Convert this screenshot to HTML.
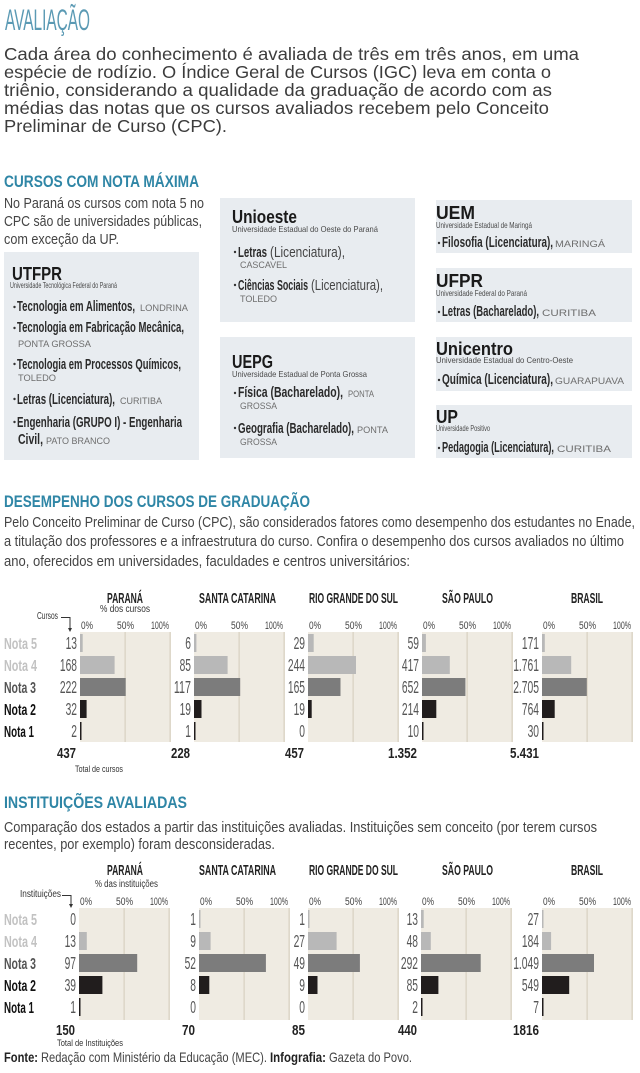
<!DOCTYPE html>
<html><head><meta charset="utf-8"><style>
html,body{margin:0;padding:0;background:#fff;}
svg{display:block;}
.c{font-family:"Liberation Sans Narrow","Liberation Sans",sans-serif;}
.r{font-family:"Liberation Sans",sans-serif;}
.b{font-weight:bold;}
.t{fill:#2f86a6;}
.h{fill:#1a1a1a;font-weight:bold;}
.s{fill:#4a4a4a;font-size:8.5px;}
.it{fill:#2a2a2a;font-weight:bold;font-size:14.5px;}
.rg{fill:#444;font-size:14.5px;}
.p{fill:#6e6e6e;font-size:9.5px;}
.n{fill:#555;font-size:17.5px;}
.nl{font-weight:bold;font-size:16px;}
.tk{fill:#444;font-size:11px;}
.tt{fill:#222;font-weight:bold;font-size:15px;}
.tot{fill:#222;font-weight:bold;font-size:15px;}
</style></head><body>
<svg width="640" height="1073" viewBox="0 0 640 1073" xmlns="http://www.w3.org/2000/svg">
<rect width="640" height="1073" fill="#fff"/>

<!-- Header -->
<text class="c" x="5" y="30" font-size="30" fill="#5b9ab4" textLength="85" lengthAdjust="spacingAndGlyphs">AVALIAÇÃO</text>
<g class="r" font-size="17.5" fill="#3c3c3c">
<text x="4" y="60" textLength="575" lengthAdjust="spacingAndGlyphs">Cada área do conhecimento é avaliada de três em três anos, em uma</text>
<text x="4" y="78" textLength="547" lengthAdjust="spacingAndGlyphs">espécie de rodízio. O Índice Geral de Cursos (IGC) leva em conta o</text>
<text x="4" y="96" textLength="548" lengthAdjust="spacingAndGlyphs">triênio, considerando a qualidade da graduação de acordo com as</text>
<text x="4" y="114" textLength="545" lengthAdjust="spacingAndGlyphs">médias das notas que os cursos avaliados recebem pelo Conceito</text>
<text x="4" y="132" textLength="223" lengthAdjust="spacingAndGlyphs">Preliminar de Curso (CPC).</text>
</g>

<!-- Cursos com nota maxima -->
<text class="c b t" x="4" y="187" font-size="16.5" textLength="195" lengthAdjust="spacingAndGlyphs">CURSOS COM NOTA MÁXIMA</text>
<g class="c" font-size="15" fill="#444">
<text x="4" y="208" textLength="200" lengthAdjust="spacingAndGlyphs">No Paraná  os cursos com nota 5 no</text>
<text x="4" y="226" textLength="198" lengthAdjust="spacingAndGlyphs">CPC são de universidades públicas,</text>
<text x="4" y="244" textLength="115" lengthAdjust="spacingAndGlyphs">com exceção da UP.</text>
</g>

<g fill="#e8ecf0">
<rect x="4" y="252" width="195" height="208"/>
<rect x="220" y="198" width="195" height="124"/>
<rect x="220" y="337" width="195" height="121"/>
<rect x="436" y="200" width="196" height="53"/>
<rect x="436" y="268" width="196" height="54"/>
<rect x="436" y="337" width="196" height="54"/>
<rect x="436" y="405" width="196" height="53"/>
</g>

<!-- UTFPR -->
<text class="c h" x="12" y="280" font-size="18" textLength="50" lengthAdjust="spacingAndGlyphs">UTFPR</text>
<text class="c s" x="10" y="288" textLength="107" lengthAdjust="spacingAndGlyphs">Universidade Tecnológica Federal do Paraná</text>
<g fill="#333">
<circle cx="14.5" cy="307" r="1.2"/><circle cx="14.5" cy="328" r="1.2"/><circle cx="14.5" cy="364" r="1.2"/><circle cx="14.5" cy="399" r="1.2"/><circle cx="14.5" cy="422" r="1.2"/>
</g>
<text class="c it" x="17" y="311" textLength="118" lengthAdjust="spacingAndGlyphs">Tecnologia em Alimentos,</text>
<text class="r p" x="140" y="311" textLength="48" lengthAdjust="spacingAndGlyphs">LONDRINA</text>
<text class="c it" x="17" y="332" textLength="167" lengthAdjust="spacingAndGlyphs">Tecnologia em Fabricação Mecânica,</text>
<text class="r p" x="18" y="347" textLength="73" lengthAdjust="spacingAndGlyphs">PONTA GROSSA</text>
<text class="c it" x="17" y="369" textLength="164" lengthAdjust="spacingAndGlyphs">Tecnologia em Processos Químicos,</text>
<text class="r p" x="18" y="381" textLength="38" lengthAdjust="spacingAndGlyphs">TOLEDO</text>
<text class="c it" x="17" y="404" textLength="98" lengthAdjust="spacingAndGlyphs">Letras (Licenciatura),</text>
<text class="r p" x="120" y="404" textLength="42" lengthAdjust="spacingAndGlyphs">CURITIBA</text>
<text class="c it" x="17" y="427" textLength="165" lengthAdjust="spacingAndGlyphs">Engenharia (GRUPO I) - Engenharia</text>
<text class="c it" x="18" y="444" textLength="25" lengthAdjust="spacingAndGlyphs">Civil,</text>
<text class="r p" x="46" y="444" textLength="64" lengthAdjust="spacingAndGlyphs">PATO BRANCO</text>

<!-- Unioeste -->
<text class="c h" x="232" y="223" font-size="18" textLength="65" lengthAdjust="spacingAndGlyphs">Unioeste</text>
<text class="c s" x="232" y="232" textLength="146" lengthAdjust="spacingAndGlyphs">Universidade Estadual do Oeste do Paraná</text>
<circle cx="235" cy="252" r="1.2" fill="#333"/><circle cx="235" cy="285" r="1.2" fill="#333"/>
<text class="c it" x="238" y="257" textLength="29" lengthAdjust="spacingAndGlyphs">Letras</text>
<text class="c rg" x="270" y="257" textLength="75" lengthAdjust="spacingAndGlyphs">(Licenciatura),</text>
<text class="r p" x="240" y="268" textLength="47" lengthAdjust="spacingAndGlyphs">CASCAVEL</text>
<text class="c it" x="238" y="290" textLength="70" lengthAdjust="spacingAndGlyphs">Ciências Sociais</text>
<text class="c rg" x="311" y="290" textLength="72" lengthAdjust="spacingAndGlyphs">(Licenciatura),</text>
<text class="r p" x="240" y="302" textLength="37" lengthAdjust="spacingAndGlyphs">TOLEDO</text>

<!-- UEPG -->
<text class="c h" x="232" y="368" font-size="18" textLength="41" lengthAdjust="spacingAndGlyphs">UEPG</text>
<text class="c s" x="232" y="377" textLength="135" lengthAdjust="spacingAndGlyphs">Universidade Estadual de Ponta Grossa</text>
<circle cx="235" cy="393" r="1.2" fill="#333"/><circle cx="235" cy="428" r="1.2" fill="#333"/>
<text class="c it" x="238" y="397" textLength="105" lengthAdjust="spacingAndGlyphs">Física (Bacharelado),</text>
<text class="r p" x="348" y="397" textLength="26" lengthAdjust="spacingAndGlyphs">PONTA</text>
<text class="r p" x="240" y="409" textLength="37" lengthAdjust="spacingAndGlyphs">GROSSA</text>
<text class="c it" x="238" y="433" textLength="116" lengthAdjust="spacingAndGlyphs">Geografia (Bacharelado),</text>
<text class="r p" x="357" y="433" textLength="31" lengthAdjust="spacingAndGlyphs">PONTA</text>
<text class="r p" x="240" y="445" textLength="37" lengthAdjust="spacingAndGlyphs">GROSSA</text>

<!-- UEM -->
<text class="c h" x="436" y="219" font-size="18" textLength="39" lengthAdjust="spacingAndGlyphs">UEM</text>
<text class="c s" x="436" y="228" textLength="96" lengthAdjust="spacingAndGlyphs">Universidade Estadual de Maringá</text>
<circle cx="439" cy="243" r="1.2" fill="#333"/>
<text class="c it" x="442" y="247" textLength="111" lengthAdjust="spacingAndGlyphs">Filosofia (Licenciatura),</text>
<text class="r p" x="555" y="247" textLength="50" lengthAdjust="spacingAndGlyphs">MARINGÁ</text>

<!-- UFPR -->
<text class="c h" x="436" y="287" font-size="18" textLength="47" lengthAdjust="spacingAndGlyphs">UFPR</text>
<text class="c s" x="436" y="296" textLength="91" lengthAdjust="spacingAndGlyphs">Universidade Federal do Paraná</text>
<circle cx="439" cy="312" r="1.2" fill="#333"/>
<text class="c it" x="442" y="316" textLength="97" lengthAdjust="spacingAndGlyphs">Letras (Bacharelado),</text>
<text class="r p" x="542" y="316" textLength="54" lengthAdjust="spacingAndGlyphs">CURITIBA</text>

<!-- Unicentro -->
<text class="c h" x="436" y="355" font-size="18" textLength="77" lengthAdjust="spacingAndGlyphs">Unicentro</text>
<text class="c s" x="436" y="363" textLength="137" lengthAdjust="spacingAndGlyphs">Universidade Estadual do Centro-Oeste</text>
<circle cx="439" cy="380" r="1.2" fill="#333"/>
<text class="c it" x="442" y="384" textLength="111" lengthAdjust="spacingAndGlyphs">Química (Licenciatura),</text>
<text class="r p" x="555" y="384" textLength="69" lengthAdjust="spacingAndGlyphs">GUARAPUAVA</text>

<!-- UP -->
<text class="c h" x="436" y="423" font-size="18" textLength="22" lengthAdjust="spacingAndGlyphs">UP</text>
<text class="c s" x="436" y="431" textLength="54" lengthAdjust="spacingAndGlyphs">Universidade Positivo</text>
<circle cx="439" cy="448" r="1.2" fill="#333"/>
<text class="c it" x="442" y="452" textLength="112" lengthAdjust="spacingAndGlyphs">Pedagogia (Licenciatura),</text>
<text class="r p" x="557" y="452" textLength="54" lengthAdjust="spacingAndGlyphs">CURITIBA</text>

<!-- DESEMPENHO -->
<text class="c b t" x="4" y="507" font-size="17" textLength="306" lengthAdjust="spacingAndGlyphs">DESEMPENHO DOS CURSOS DE GRADUAÇÃO</text>
<g class="c" font-size="15" fill="#444">
<text x="4" y="527" textLength="631" lengthAdjust="spacingAndGlyphs">Pelo Conceito Preliminar de Curso (CPC), são considerados fatores como desempenho dos estudantes no Enade,</text>
<text x="4" y="546" textLength="620" lengthAdjust="spacingAndGlyphs">a titulação dos professores e a infraestrutura do curso. Confira o desempenho dos cursos avaliados no último</text>
<text x="4" y="566" textLength="406" lengthAdjust="spacingAndGlyphs">ano, oferecidos em universidades, faculdades e centros universitários:</text>
</g>

<!-- Chart 1 backgrounds -->
<g fill="#efebe2">
<rect x="80" y="632" width="91" height="110"/>
<rect x="194" y="632" width="91" height="110"/>
<rect x="308" y="632" width="91" height="110"/>
<rect x="422" y="632" width="91" height="110"/>
<rect x="542" y="632" width="91" height="110"/>
</g>
<g fill="#d8d0c1">
<rect x="124.5" y="632" width="1.2" height="110"/><rect x="169.5" y="632" width="1.2" height="110"/>
<rect x="238.5" y="632" width="1.2" height="110"/><rect x="283.5" y="632" width="1.2" height="110"/>
<rect x="352.5" y="632" width="1.2" height="110"/><rect x="397.5" y="632" width="1.2" height="110"/>
<rect x="466.5" y="632" width="1.2" height="110"/><rect x="511.5" y="632" width="1.2" height="110"/>
<rect x="586.5" y="632" width="1.2" height="110"/><rect x="631.5" y="632" width="1.2" height="110"/>
</g>

<!-- Chart 1 titles -->
<g class="c tt" text-anchor="middle">
<text x="125" y="603" textLength="36" lengthAdjust="spacingAndGlyphs">PARANÁ</text>
<text x="237.5" y="603" textLength="77" lengthAdjust="spacingAndGlyphs">SANTA CATARINA</text>
<text x="353.5" y="603" textLength="89" lengthAdjust="spacingAndGlyphs">RIO GRANDE DO SUL</text>
<text x="467.5" y="603" textLength="51" lengthAdjust="spacingAndGlyphs">SÃO PAULO</text>
<text x="587" y="603" textLength="32" lengthAdjust="spacingAndGlyphs">BRASIL</text>
</g>
<text class="c" x="100" y="612" font-size="10" fill="#333" textLength="50" lengthAdjust="spacingAndGlyphs">% dos cursos</text>
<text class="c" x="37" y="619" font-size="10" fill="#333" textLength="21" lengthAdjust="spacingAndGlyphs">Cursos</text>
<path d="M61 617.5 H70 V629" stroke="#333" stroke-width="1" fill="none"/>
<polygon points="68,628 72,628 70,632" fill="#333"/>

<!-- Chart 1 ticks -->
<g class="c tk">
<text x="81" y="629" textLength="12" lengthAdjust="spacingAndGlyphs">0%</text>
<text x="117" y="629" textLength="17" lengthAdjust="spacingAndGlyphs">50%</text>
<text x="151" y="629" textLength="18" lengthAdjust="spacingAndGlyphs">100%</text>
<text x="195" y="629" textLength="12" lengthAdjust="spacingAndGlyphs">0%</text>
<text x="231" y="629" textLength="17" lengthAdjust="spacingAndGlyphs">50%</text>
<text x="265" y="629" textLength="18" lengthAdjust="spacingAndGlyphs">100%</text>
<text x="309" y="629" textLength="12" lengthAdjust="spacingAndGlyphs">0%</text>
<text x="345" y="629" textLength="17" lengthAdjust="spacingAndGlyphs">50%</text>
<text x="379" y="629" textLength="18" lengthAdjust="spacingAndGlyphs">100%</text>
<text x="423" y="629" textLength="12" lengthAdjust="spacingAndGlyphs">0%</text>
<text x="459" y="629" textLength="17" lengthAdjust="spacingAndGlyphs">50%</text>
<text x="493" y="629" textLength="18" lengthAdjust="spacingAndGlyphs">100%</text>
<text x="543" y="629" textLength="12" lengthAdjust="spacingAndGlyphs">0%</text>
<text x="579" y="629" textLength="17" lengthAdjust="spacingAndGlyphs">50%</text>
<text x="613" y="629" textLength="18" lengthAdjust="spacingAndGlyphs">100%</text>
</g>

<!-- Nota labels chart 1 -->
<g class="c nl">
<text x="4" y="649" fill="#c2c2c2" textLength="33" lengthAdjust="spacingAndGlyphs">Nota 5</text>
<text x="4" y="671" fill="#c2c2c2" textLength="33" lengthAdjust="spacingAndGlyphs">Nota 4</text>
<text x="4" y="693" fill="#555" textLength="32" lengthAdjust="spacingAndGlyphs">Nota 3</text>
<text x="4" y="715" fill="#111" textLength="32" lengthAdjust="spacingAndGlyphs">Nota 2</text>
<text x="4" y="737" fill="#111" textLength="30" lengthAdjust="spacingAndGlyphs">Nota 1</text>
</g>

<!-- Chart 1 bars -->
<g>
<rect x="80" y="634" width="2.7" height="18" fill="#b8b8b8"/>
<rect x="80" y="656" width="34.6" height="18" fill="#b8b8b8"/>
<rect x="80" y="678" width="45.7" height="18" fill="#7c7c7c"/>
<rect x="80" y="700" width="6.6" height="18" fill="#211d1d"/>
<rect x="80" y="722" width="1.5" height="18" fill="#211d1d"/>

<rect x="194" y="634" width="2.4" height="18" fill="#b8b8b8"/>
<rect x="194" y="656" width="33.6" height="18" fill="#b8b8b8"/>
<rect x="194" y="678" width="46.2" height="18" fill="#7c7c7c"/>
<rect x="194" y="700" width="7.5" height="18" fill="#211d1d"/>
<rect x="194" y="722" width="1.5" height="18" fill="#211d1d"/>

<rect x="308" y="634" width="5.7" height="18" fill="#b8b8b8"/>
<rect x="308" y="656" width="48" height="18" fill="#b8b8b8"/>
<rect x="308" y="678" width="32.5" height="18" fill="#7c7c7c"/>
<rect x="308" y="700" width="3.7" height="18" fill="#211d1d"/>

<rect x="422" y="634" width="3.9" height="18" fill="#b8b8b8"/>
<rect x="422" y="656" width="27.8" height="18" fill="#b8b8b8"/>
<rect x="422" y="678" width="43.4" height="18" fill="#7c7c7c"/>
<rect x="422" y="700" width="14.3" height="18" fill="#211d1d"/>
<rect x="422" y="722" width="1.5" height="18" fill="#211d1d"/>

<rect x="542" y="634" width="2.8" height="18" fill="#b8b8b8"/>
<rect x="542" y="656" width="29.2" height="18" fill="#b8b8b8"/>
<rect x="542" y="678" width="44.8" height="18" fill="#7c7c7c"/>
<rect x="542" y="700" width="12.7" height="18" fill="#211d1d"/>
<rect x="542" y="722" width="1.5" height="18" fill="#211d1d"/>
</g>

<!-- Chart 1 numbers -->
<g class="c n">
<text x="65.6" y="649" textLength="11.4" lengthAdjust="spacingAndGlyphs">13</text>
<text x="59.9" y="671" textLength="17.1" lengthAdjust="spacingAndGlyphs">168</text>
<text x="59.9" y="693" textLength="17.1" lengthAdjust="spacingAndGlyphs">222</text>
<text x="65.6" y="715" textLength="11.4" lengthAdjust="spacingAndGlyphs">32</text>
<text x="71.3" y="737" textLength="5.7" lengthAdjust="spacingAndGlyphs">2</text>

<text x="185.3" y="649" textLength="5.7" lengthAdjust="spacingAndGlyphs">6</text>
<text x="179.6" y="671" textLength="11.4" lengthAdjust="spacingAndGlyphs">85</text>
<text x="173.9" y="693" textLength="17.1" lengthAdjust="spacingAndGlyphs">117</text>
<text x="179.6" y="715" textLength="11.4" lengthAdjust="spacingAndGlyphs">19</text>
<text x="185.3" y="737" textLength="5.7" lengthAdjust="spacingAndGlyphs">1</text>

<text x="293.6" y="649" textLength="11.4" lengthAdjust="spacingAndGlyphs">29</text>
<text x="287.9" y="671" textLength="17.1" lengthAdjust="spacingAndGlyphs">244</text>
<text x="287.9" y="693" textLength="17.1" lengthAdjust="spacingAndGlyphs">165</text>
<text x="293.6" y="715" textLength="11.4" lengthAdjust="spacingAndGlyphs">19</text>
<text x="299.3" y="737" textLength="5.7" lengthAdjust="spacingAndGlyphs">0</text>

<text x="407.6" y="649" textLength="11.4" lengthAdjust="spacingAndGlyphs">59</text>
<text x="401.9" y="671" textLength="17.1" lengthAdjust="spacingAndGlyphs">417</text>
<text x="401.9" y="693" textLength="17.1" lengthAdjust="spacingAndGlyphs">652</text>
<text x="401.9" y="715" textLength="17.1" lengthAdjust="spacingAndGlyphs">214</text>
<text x="407.6" y="737" textLength="11.4" lengthAdjust="spacingAndGlyphs">10</text>

<text x="521.9" y="649" textLength="17.1" lengthAdjust="spacingAndGlyphs">171</text>
<text x="513.2" y="671" textLength="25.8" lengthAdjust="spacingAndGlyphs">1.761</text>
<text x="513.2" y="693" textLength="25.8" lengthAdjust="spacingAndGlyphs">2.705</text>
<text x="521.9" y="715" textLength="17.1" lengthAdjust="spacingAndGlyphs">764</text>
<text x="527.6" y="737" textLength="11.4" lengthAdjust="spacingAndGlyphs">30</text>
</g>

<!-- Chart 1 totals -->
<g class="c tot">
<text x="57" y="758" textLength="19" lengthAdjust="spacingAndGlyphs">437</text>
<text x="171" y="758" textLength="19" lengthAdjust="spacingAndGlyphs">228</text>
<text x="285" y="758" textLength="19" lengthAdjust="spacingAndGlyphs">457</text>
<text x="388" y="758" textLength="29" lengthAdjust="spacingAndGlyphs">1.352</text>
<text x="510" y="758" textLength="29" lengthAdjust="spacingAndGlyphs">5.431</text>
</g>
<text class="c" x="75" y="772" font-size="9.5" fill="#333" textLength="48" lengthAdjust="spacingAndGlyphs">Total de cursos</text>

<!-- INSTITUICOES -->
<text class="c b t" x="4" y="808" font-size="17" textLength="183" lengthAdjust="spacingAndGlyphs">INSTITUIÇÕES AVALIADAS</text>
<g class="c" font-size="15" fill="#444">
<text x="4" y="832" textLength="593" lengthAdjust="spacingAndGlyphs">Comparação dos estados a partir das instituições avaliadas. Instituições sem conceito (por terem cursos</text>
<text x="4" y="849" textLength="271" lengthAdjust="spacingAndGlyphs">recentes, por exemplo) foram desconsideradas.</text>
</g>

<!-- Chart 2 backgrounds -->
<g fill="#efebe2">
<rect x="79" y="908" width="91" height="112"/>
<rect x="199" y="908" width="91" height="112"/>
<rect x="308" y="908" width="91" height="112"/>
<rect x="421" y="908" width="91" height="112"/>
<rect x="542" y="908" width="91" height="112"/>
</g>
<g fill="#d8d0c1">
<rect x="123.5" y="908" width="1.2" height="112"/><rect x="168.5" y="908" width="1.2" height="112"/>
<rect x="243.5" y="908" width="1.2" height="112"/><rect x="288.5" y="908" width="1.2" height="112"/>
<rect x="352.5" y="908" width="1.2" height="112"/><rect x="397.5" y="908" width="1.2" height="112"/>
<rect x="465.5" y="908" width="1.2" height="112"/><rect x="510.5" y="908" width="1.2" height="112"/>
<rect x="586.5" y="908" width="1.2" height="112"/><rect x="631.5" y="908" width="1.2" height="112"/>
</g>

<g class="c tt" text-anchor="middle">
<text x="125" y="875" textLength="36" lengthAdjust="spacingAndGlyphs">PARANÁ</text>
<text x="237.5" y="875" textLength="77" lengthAdjust="spacingAndGlyphs">SANTA CATARINA</text>
<text x="353.5" y="875" textLength="89" lengthAdjust="spacingAndGlyphs">RIO GRANDE DO SUL</text>
<text x="467.5" y="875" textLength="51" lengthAdjust="spacingAndGlyphs">SÃO PAULO</text>
<text x="587" y="875" textLength="32" lengthAdjust="spacingAndGlyphs">BRASIL</text>
</g>
<text class="c" x="95" y="887" font-size="10" fill="#333" textLength="63" lengthAdjust="spacingAndGlyphs">% das instituições</text>
<text class="c" x="20" y="897" font-size="10" fill="#333" textLength="41" lengthAdjust="spacingAndGlyphs">Instituições</text>
<path d="M62 895.5 H71 V905" stroke="#333" stroke-width="1" fill="none"/>
<polygon points="69,904 73,904 71,908" fill="#333"/>

<g class="c tk">
<text x="80" y="905" textLength="12" lengthAdjust="spacingAndGlyphs">0%</text>
<text x="116" y="905" textLength="17" lengthAdjust="spacingAndGlyphs">50%</text>
<text x="150" y="905" textLength="18" lengthAdjust="spacingAndGlyphs">100%</text>
<text x="200" y="905" textLength="12" lengthAdjust="spacingAndGlyphs">0%</text>
<text x="236" y="905" textLength="17" lengthAdjust="spacingAndGlyphs">50%</text>
<text x="270" y="905" textLength="18" lengthAdjust="spacingAndGlyphs">100%</text>
<text x="309" y="905" textLength="12" lengthAdjust="spacingAndGlyphs">0%</text>
<text x="345" y="905" textLength="17" lengthAdjust="spacingAndGlyphs">50%</text>
<text x="379" y="905" textLength="18" lengthAdjust="spacingAndGlyphs">100%</text>
<text x="422" y="905" textLength="12" lengthAdjust="spacingAndGlyphs">0%</text>
<text x="458" y="905" textLength="17" lengthAdjust="spacingAndGlyphs">50%</text>
<text x="492" y="905" textLength="18" lengthAdjust="spacingAndGlyphs">100%</text>
<text x="543" y="905" textLength="12" lengthAdjust="spacingAndGlyphs">0%</text>
<text x="579" y="905" textLength="17" lengthAdjust="spacingAndGlyphs">50%</text>
<text x="613" y="905" textLength="18" lengthAdjust="spacingAndGlyphs">100%</text>
</g>

<g class="c nl">
<text x="4" y="925" fill="#c2c2c2" textLength="33" lengthAdjust="spacingAndGlyphs">Nota 5</text>
<text x="4" y="947" fill="#c2c2c2" textLength="33" lengthAdjust="spacingAndGlyphs">Nota 4</text>
<text x="4" y="969" fill="#555" textLength="32" lengthAdjust="spacingAndGlyphs">Nota 3</text>
<text x="4" y="991" fill="#111" textLength="32" lengthAdjust="spacingAndGlyphs">Nota 2</text>
<text x="4" y="1013" fill="#111" textLength="30" lengthAdjust="spacingAndGlyphs">Nota 1</text>
</g>

<!-- Chart 2 bars -->
<g>
<rect x="79" y="932" width="7.8" height="18" fill="#b8b8b8"/>
<rect x="79" y="954" width="58.2" height="18" fill="#7c7c7c"/>
<rect x="79" y="976" width="23.4" height="18" fill="#211d1d"/>
<rect x="79" y="998" width="1.5" height="18" fill="#211d1d"/>

<rect x="199" y="910" width="1.5" height="18" fill="#b8b8b8"/>
<rect x="199" y="932" width="11.6" height="18" fill="#b8b8b8"/>
<rect x="199" y="954" width="66.9" height="18" fill="#7c7c7c"/>
<rect x="199" y="976" width="10.3" height="18" fill="#211d1d"/>

<rect x="308" y="910" width="1.5" height="18" fill="#b8b8b8"/>
<rect x="308" y="932" width="28.6" height="18" fill="#b8b8b8"/>
<rect x="308" y="954" width="51.9" height="18" fill="#7c7c7c"/>
<rect x="308" y="976" width="9.5" height="18" fill="#211d1d"/>

<rect x="421" y="910" width="2.7" height="18" fill="#b8b8b8"/>
<rect x="421" y="932" width="9.8" height="18" fill="#b8b8b8"/>
<rect x="421" y="954" width="59.7" height="18" fill="#7c7c7c"/>
<rect x="421" y="976" width="17.4" height="18" fill="#211d1d"/>
<rect x="421" y="998" width="1.5" height="18" fill="#211d1d"/>

<rect x="542" y="910" width="1.5" height="18" fill="#b8b8b8"/>
<rect x="542" y="932" width="9.1" height="18" fill="#b8b8b8"/>
<rect x="542" y="954" width="52" height="18" fill="#7c7c7c"/>
<rect x="542" y="976" width="27.2" height="18" fill="#211d1d"/>
<rect x="542" y="998" width="1.5" height="18" fill="#211d1d"/>
</g>

<g class="c n">
<text x="70.3" y="925" textLength="5.7" lengthAdjust="spacingAndGlyphs">0</text>
<text x="64.6" y="947" textLength="11.4" lengthAdjust="spacingAndGlyphs">13</text>
<text x="64.6" y="969" textLength="11.4" lengthAdjust="spacingAndGlyphs">97</text>
<text x="64.6" y="991" textLength="11.4" lengthAdjust="spacingAndGlyphs">39</text>
<text x="70.3" y="1013" textLength="5.7" lengthAdjust="spacingAndGlyphs">1</text>

<text x="190.3" y="925" textLength="5.7" lengthAdjust="spacingAndGlyphs">1</text>
<text x="190.3" y="947" textLength="5.7" lengthAdjust="spacingAndGlyphs">9</text>
<text x="184.6" y="969" textLength="11.4" lengthAdjust="spacingAndGlyphs">52</text>
<text x="190.3" y="991" textLength="5.7" lengthAdjust="spacingAndGlyphs">8</text>
<text x="190.3" y="1013" textLength="5.7" lengthAdjust="spacingAndGlyphs">0</text>

<text x="299.3" y="925" textLength="5.7" lengthAdjust="spacingAndGlyphs">1</text>
<text x="293.6" y="947" textLength="11.4" lengthAdjust="spacingAndGlyphs">27</text>
<text x="293.6" y="969" textLength="11.4" lengthAdjust="spacingAndGlyphs">49</text>
<text x="299.3" y="991" textLength="5.7" lengthAdjust="spacingAndGlyphs">9</text>
<text x="299.3" y="1013" textLength="5.7" lengthAdjust="spacingAndGlyphs">0</text>

<text x="406.6" y="925" textLength="11.4" lengthAdjust="spacingAndGlyphs">13</text>
<text x="406.6" y="947" textLength="11.4" lengthAdjust="spacingAndGlyphs">48</text>
<text x="400.9" y="969" textLength="17.1" lengthAdjust="spacingAndGlyphs">292</text>
<text x="406.6" y="991" textLength="11.4" lengthAdjust="spacingAndGlyphs">85</text>
<text x="412.3" y="1013" textLength="5.7" lengthAdjust="spacingAndGlyphs">2</text>

<text x="527.6" y="925" textLength="11.4" lengthAdjust="spacingAndGlyphs">27</text>
<text x="521.9" y="947" textLength="17.1" lengthAdjust="spacingAndGlyphs">184</text>
<text x="513.2" y="969" textLength="25.8" lengthAdjust="spacingAndGlyphs">1.049</text>
<text x="521.9" y="991" textLength="17.1" lengthAdjust="spacingAndGlyphs">549</text>
<text x="533.3" y="1013" textLength="5.7" lengthAdjust="spacingAndGlyphs">7</text>
</g>

<g class="c tot">
<text x="56" y="1035" textLength="19" lengthAdjust="spacingAndGlyphs">150</text>
<text x="182" y="1035" textLength="13" lengthAdjust="spacingAndGlyphs">70</text>
<text x="292" y="1035" textLength="13" lengthAdjust="spacingAndGlyphs">85</text>
<text x="398" y="1035" textLength="19" lengthAdjust="spacingAndGlyphs">440</text>
<text x="513" y="1035" textLength="26" lengthAdjust="spacingAndGlyphs">1816</text>
</g>
<text class="c" x="57" y="1046" font-size="9.5" fill="#333" textLength="66" lengthAdjust="spacingAndGlyphs">Total de Instituições</text>

<!-- Fonte -->
<g class="c" font-size="14">
<text x="4" y="1062" font-weight="bold" fill="#222" textLength="34" lengthAdjust="spacingAndGlyphs">Fonte:</text>
<text x="41" y="1062" fill="#444" textLength="226" lengthAdjust="spacingAndGlyphs">Redação com Ministério da Educação (MEC).</text>
<text x="270" y="1062" font-weight="bold" fill="#222" textLength="56" lengthAdjust="spacingAndGlyphs">Infografia:</text>
<text x="329" y="1062" fill="#444" textLength="83" lengthAdjust="spacingAndGlyphs">Gazeta do Povo.</text>
</g>
</svg>
</body></html>
